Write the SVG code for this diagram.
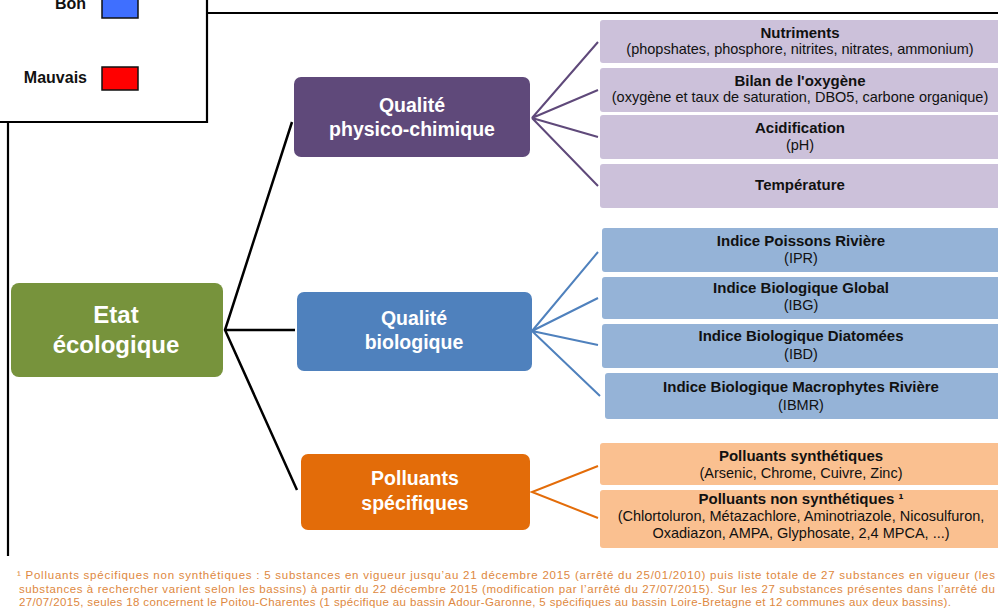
<svg xmlns="http://www.w3.org/2000/svg" width="998" height="610" viewBox="0 0 998 610">
<style>
  .frame { fill: none; stroke: #000; stroke-width: 2.2; }
  .lbl { font-family: "Liberation Sans", Arial, sans-serif; font-weight: bold; font-size: 16px; fill: #111; }
  .main { font-family: "Liberation Sans", Arial, sans-serif; font-weight: bold; fill: #fff; text-anchor: middle; }
  .t { font-family: "Liberation Sans", Arial, sans-serif; font-weight: bold; font-size: 15px; fill: #111; text-anchor: middle; }
  .s { font-family: "Liberation Sans", Arial, sans-serif; font-size: 14.5px; fill: #111; text-anchor: middle; }
  .fn { font-family: "Liberation Sans", Arial, sans-serif; font-size: 11.5px; fill: #DE8840; }
  .pl { fill: #CCC1DA; }
  .bl { fill: #95B3D7; }
  .ol { fill: #FAC090; }
  .cblack { stroke: #000; stroke-width: 2.5; fill: none; }
  .cpur { stroke: #5F497A; stroke-width: 2; fill: none; }
  .cblu { stroke: #4F81BD; stroke-width: 2; fill: none; }
  .cora { stroke: #E36C09; stroke-width: 2; fill: none; }
</style>
<rect width="998" height="610" fill="#fff"/>

<g id="frame">
  <path class="frame" d="M207,-2 V122 H-2"/>
  <path class="frame" d="M207,13 H998"/>
  <path class="frame" d="M8,122 V556"/>
</g>

<g id="legend">
  <text class="lbl" x="86" y="9" text-anchor="end">Bon</text>
  <rect x="102" y="-4" width="36" height="22" fill="#3F6FFF" stroke="#111" stroke-width="1.5"/>
  <text class="lbl" x="87" y="83" text-anchor="end">Mauvais</text>
  <rect x="102" y="67" width="36" height="23" fill="#FF0000" stroke="#111" stroke-width="1.5"/>
</g>

<g id="connectors">
  <path class="cblack" d="M292,122 L225,330 L297,490 M225,330 H295"/>
  <path class="cpur" d="M598,42 L532,118 L598,90 M532,118 L598,137 M532,118 L598,186"/>
  <path class="cblu" d="M598,252 L532,331 L598,298 M532,331 L598,345 M532,331 L600,396"/>
  <path class="cora" d="M598,466 L532,492 L598,518"/>
</g>

<g id="etat">
  <rect x="11" y="283" width="212" height="94" rx="8" fill="#77933C"/>
  <text class="main" x="116" y="323" font-size="24">Etat</text>
  <text class="main" x="116" y="353" font-size="24">écologique</text>
</g>

<g id="physico">
  <rect x="294" y="77" width="236" height="80" rx="7" fill="#5F497A"/>
  <text class="main" x="412" y="112" font-size="19.5">Qualité</text>
  <text class="main" x="412" y="136" font-size="19.5">physico-chimique</text>
</g>

<g id="biologique">
  <rect x="297" y="292" width="235" height="79" rx="7" fill="#4F81BD"/>
  <text class="main" x="414" y="325" font-size="19.5">Qualité</text>
  <text class="main" x="414" y="349" font-size="19.5">biologique</text>
</g>

<g id="polluants">
  <rect x="301" y="454" width="229" height="76" rx="7" fill="#E36C09"/>
  <text class="main" x="415" y="485" font-size="19.5">Polluants</text>
  <text class="main" x="415" y="510" font-size="19.5">spécifiques</text>
</g>

<g id="nutriments">
  <rect class="pl" x="600" y="20" width="404" height="43" rx="3"/>
  <text class="t" x="800" y="38">Nutriments</text>
  <text class="s" x="800" y="54">(phopshates, phosphore, nitrites, nitrates, ammonium)</text>
</g>
<g id="oxygene">
  <rect class="pl" x="600" y="68" width="404" height="44" rx="3"/>
  <text class="t" x="800" y="86">Bilan de l'oxygène</text>
  <text class="s" x="800" y="102">(oxygène et taux de saturation, DBO5, carbone organique)</text>
</g>
<g id="acidification">
  <rect class="pl" x="600" y="115" width="404" height="44" rx="3"/>
  <text class="t" x="800" y="133">Acidification</text>
  <text class="s" x="800" y="150">(pH)</text>
</g>
<g id="temperature">
  <rect class="pl" x="600" y="164" width="404" height="44" rx="3"/>
  <text class="t" x="800" y="190">Température</text>
</g>

<g id="ipr">
  <rect class="bl" x="602" y="228" width="402" height="44" rx="3"/>
  <text class="t" x="801" y="246">Indice Poissons Rivière</text>
  <text class="s" x="801" y="263">(IPR)</text>
</g>
<g id="ibg">
  <rect class="bl" x="602" y="277" width="402" height="42" rx="3"/>
  <text class="t" x="801" y="293">Indice Biologique Global</text>
  <text class="s" x="801" y="310">(IBG)</text>
</g>
<g id="ibd">
  <rect class="bl" x="602" y="324" width="402" height="44" rx="3"/>
  <text class="t" x="801" y="341">Indice Biologique Diatomées</text>
  <text class="s" x="801" y="359">(IBD)</text>
</g>
<g id="ibmr">
  <rect class="bl" x="605" y="373" width="399" height="46" rx="3"/>
  <text class="t" x="801" y="392">Indice Biologique Macrophytes Rivière</text>
  <text class="s" x="801" y="410">(IBMR)</text>
</g>

<g id="synthetiques">
  <rect class="ol" x="600" y="443" width="404" height="42" rx="3"/>
  <text class="t" x="801" y="461">Polluants synthétiques</text>
  <text class="s" x="801" y="478">(Arsenic, Chrome, Cuivre, Zinc)</text>
</g>
<g id="non-synthetiques">
  <rect class="ol" x="600" y="490" width="404" height="58" rx="3"/>
  <text class="t" x="801" y="504">Polluants non synthétiques ¹</text>
  <text class="s" x="801" y="521">(Chlortoluron, Métazachlore, Aminotriazole, Nicosulfuron,</text>
  <text class="s" x="801" y="538">Oxadiazon, AMPA, Glyphosate, 2,4 MPCA, ...)</text>
</g>

<g id="footnote">
  <text class="fn" x="17" y="579" textLength="978" lengthAdjust="spacing">¹ Polluants spécifiques non synthétiques : 5 substances en vigueur jusqu’au 21 décembre 2015 (arrêté du 25/01/2010) puis liste totale de 27 substances en vigueur (les</text>
  <text class="fn" x="19" y="593" textLength="976" lengthAdjust="spacing">substances à rechercher varient selon les bassins) à partir du 22 décembre 2015 (modification par l’arrêté du 27/07/2015). Sur les 27 substances présentes dans l’arrêté du</text>
  <text class="fn" x="19" y="606" textLength="932" lengthAdjust="spacing">27/07/2015, seules 18 concernent le Poitou-Charentes (1 spécifique au bassin Adour-Garonne, 5 spécifiques au bassin Loire-Bretagne et 12 communes aux deux bassins).</text>
</g>
</svg>
